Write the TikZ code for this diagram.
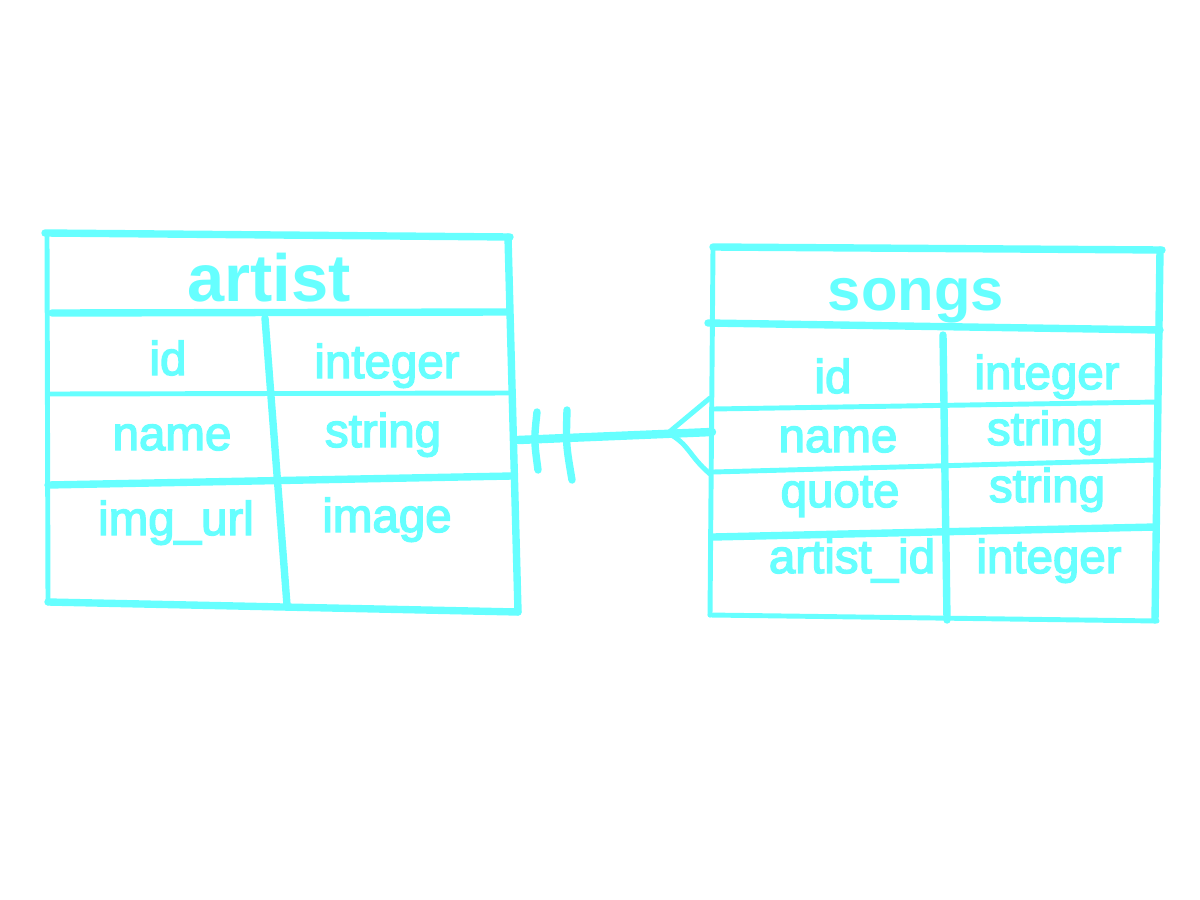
\documentclass[tikz,border=0pt]{standalone}
\usepackage{fontspec}
\setmainfont{Liberation Sans}
\newfontfamily\sketchfont{Liberation Sans}[FakeBold=3]
\usetikzlibrary{positioning}
\definecolor{sketch}{RGB}{102,255,255}

\begin{document}
\begin{tikzpicture}[x=0.01cm, y=-0.01cm,
  pen/.style = {draw=sketch, line width=1.4pt, line cap=round, line join=round},
  heavy/.style = {pen, line width=2.1pt},
  title/.style = {text=sketch, anchor=base, font=\bfseries\fontsize{19}{22}\selectfont},
  field/.style = {text=sketch, anchor=base, font=\sketchfont\fontsize{13.5}{16}\selectfont}]
\useasboundingbox (0,0) rectangle (1200,900);

% artist table
\draw[heavy] (45,233) -- (510,237);
\draw[pen] (47,235) -- (48,603);
\draw[heavy] (508,237) -- (518,612);
\draw[heavy] (48,602) -- (518,612);
\draw[heavy] (52,313) -- (507,312);
\draw[pen] (50,394) -- (510,393);
\draw[heavy] (48,485) -- (512,476);
\draw[heavy] (265,318) -- (287,605);
\node[title] (artist) at (269,301) {artist};
\node[field] (artist-id) at (168,375) {id};
\node[field] (artist-id-type) at (387,378) {integer};
\node[field] (artist-name) at (172,450) {name};
\node[field] (artist-name-type) at (383,447) {string};
\node[field] (artist-img) at (176,535) {img\_url};
\node[field] (artist-img-type) at (387,532) {image};

% songs table
\draw[heavy] (713,247) -- (1162,250);
\draw[pen] (713,248) -- (710,615);
\draw[heavy] (1160,250) -- (1155,620);
\draw[pen] (710,615) -- (1157,621);
\draw[heavy] (708,323) -- (1160,330);
\draw[pen] (713,409) -- (1158,402);
\draw[pen] (713,472) -- (1155,460);
\draw[heavy] (713,537) -- (1155,527);
\draw[heavy] (943,335) -- (947,620);
\node[title, font=\bfseries\fontsize{17}{20}\selectfont] (songs) at (916,310) {songs};
\node[field] (songs-id) at (833,393) {id};
\node[field] (songs-id-type) at (1047,389) {integer};
\node[field] (songs-name) at (838,452) {name};
\node[field] (songs-name-type) at (1045,445) {string};
\node[field] (songs-quote) at (840,507) {quote};
\node[field] (songs-quote-type) at (1047,502) {string};
\node[field] (songs-artist) at (852,573) {artist\_id};
\node[field] (songs-artist-type) at (1049,573) {integer};

% one artist -- many songs
\coordinate (artist-end) at (518,440);
\coordinate (songs-end) at (712,432);
\coordinate (fork) at (668,433);
\draw[heavy, line width=2.4pt] (artist-end) -- (songs-end);
\draw[heavy] (537,412) .. controls (534,440) .. (538,470);
\draw[heavy] (567,410) .. controls (566,445) .. (572,480);
\draw[pen] (fork) -- (710,398);
\draw[pen] (fork) .. controls (690,445) and (688,455) .. (710,474);
\end{tikzpicture}
\end{document}
